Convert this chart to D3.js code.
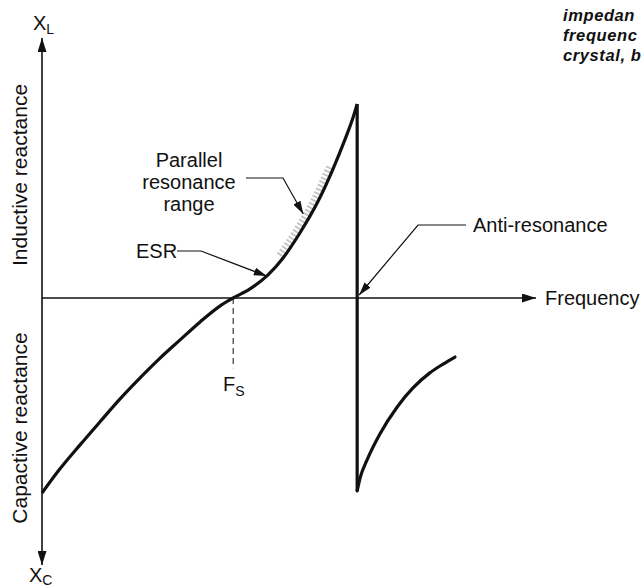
<!DOCTYPE html>
<html>
<head>
<meta charset="utf-8">
<script src="https://cdn.jsdelivr.net/npm/d3@7"></script>
<style>
  body { margin: 0; background: #fff; }
  svg text { font-family: "Liberation Sans", Arial, sans-serif; fill: #111; }
</style>
</head>
<body>
<div id="chart"></div>
<script>
// reactance curve of a quartz crystal, arbitrary units
// frequency 0..100, reactance -100..100
var lowFreq  = [0, 3.6, 7.7, 11.7, 15.8, 19.8, 23.9, 27.9, 32, 36, 38.7, 42.1, 45.7, 48.8, 52.2, 55.7, 58.9, 61.3, 63, 63.8];
var lowReact = [-75, -65.8, -56.5, -47.7, -38.8, -30.8, -23.1, -16.2, -9.2, -3.1, 0, 3.5, 8.8, 15.4, 25, 36.5, 49.6, 60.8, 69.6, 74.6];
var highFreq  = [63.8, 64.4, 65.8, 68.4, 71.9, 75.1, 78.5, 81.2, 83.6];
var highReact = [-74.2, -69.2, -62.3, -52.3, -41.9, -34.6, -28.8, -25.4, -22.7];
var seriesRes = 38.7;       // F_S
var antiRes = 63.8;         // anti-resonance
var parallelRange = [47.8, 58.4];
var esrFreq = 45.7;

var W = 643, H = 587;

var svg = d3.select("#chart").append("svg")
  .attr("width", W).attr("height", H);

var x = d3.scaleLinear().domain([0, 100]).range([42, 536]);
var y = d3.scaleLinear().domain([-100, 100]).range([558, 38]);

var defs = svg.append("defs");
function marker(id, len, wid) {
  defs.append("marker")
    .attr("id", id)
    .attr("viewBox", "0 0 " + len + " " + wid)
    .attr("refX", len).attr("refY", wid / 2)
    .attr("markerWidth", len).attr("markerHeight", wid)
    .attr("markerUnits", "userSpaceOnUse")
    .attr("orient", "auto")
    .append("path")
    .attr("d", "M0,0L" + len + "," + wid / 2 + "L0," + wid + "Z")
    .attr("fill", "#111");
}
marker("axisArrow", 14, 9);
marker("leadArrow", 13, 8);

// axes
svg.append("line")
  .attr("x1", x(0)).attr("x2", x(0))
  .attr("y1", y(0)).attr("y2", 38)
  .attr("stroke", "#111").attr("stroke-width", 1.6)
  .attr("marker-end", "url(#axisArrow)");
svg.append("line")
  .attr("x1", x(0)).attr("x2", x(0))
  .attr("y1", y(0)).attr("y2", 565)
  .attr("stroke", "#111").attr("stroke-width", 1.6)
  .attr("marker-end", "url(#axisArrow)");
svg.append("line")
  .attr("x1", x(0)).attr("x2", 536)
  .attr("y1", y(0)).attr("y2", y(0))
  .attr("stroke", "#111").attr("stroke-width", 1.6)
  .attr("marker-end", "url(#axisArrow)");

// F_S dashed drop
svg.append("line")
  .attr("x1", x(seriesRes)).attr("x2", x(seriesRes))
  .attr("y1", y(0)).attr("y2", y(-27))
  .attr("stroke", "#111").attr("stroke-width", 1)
  .attr("stroke-dasharray", "6,4");

var line = d3.line()
  .x(function (d) { return x(d[0]); })
  .y(function (d) { return y(d[1]); })
  .curve(d3.curveMonotoneX);

var low = d3.zip(lowFreq, lowReact),
    high = d3.zip(highFreq, highReact);

// parallel resonance band (grey, speckled)
var band = low.filter(function (d) { return d[0] >= parallelRange[0] - 1 && d[0] <= parallelRange[1] + 1; });
var bandLine = d3.line()
  .x(function (d) { return x(d[0]) - 2.5; })
  .y(function (d) { return y(d[1]) - 2; })
  .curve(d3.curveMonotoneX);
svg.append("path")
  .attr("d", bandLine(band))
  .attr("fill", "none").attr("stroke", "#a0a0a0")
  .attr("stroke-width", 9).attr("stroke-dasharray", "2,2")
  .attr("opacity", 0.6);

svg.append("path")
  .attr("d", line(low))
  .attr("fill", "none").attr("stroke", "#111")
  .attr("stroke-width", 3.2).attr("stroke-linejoin", "round");

svg.append("line")
  .attr("x1", x(antiRes)).attr("x2", x(antiRes))
  .attr("y1", y(lowReact[lowReact.length - 1])).attr("y2", y(highReact[0]))
  .attr("stroke", "#111").attr("stroke-width", 3.2);

svg.append("path")
  .attr("d", line(high))
  .attr("fill", "none").attr("stroke", "#111")
  .attr("stroke-width", 3.2).attr("stroke-linecap", "round");

// leader lines
function leader(pts) {
  svg.append("polyline")
    .attr("points", pts.map(function (p) { return p.join(","); }).join(" "))
    .attr("fill", "none").attr("stroke", "#111").attr("stroke-width", 1.2)
    .attr("marker-end", "url(#leadArrow)");
}
leader([[246, 178], [283, 178], [x(53.5) - 3, y(30) - 6]]);
leader([[177, 251], [201, 251], [x(esrFreq) - 1, y(8.8) + 1]]);
leader([[466, 225], [418, 225], [x(antiRes) + 2, y(0) - 3]]);

// labels
function label(t, px, py, opts) {
  opts = opts || {};
  return svg.append("text")
    .attr("x", px).attr("y", py)
    .attr("font-size", opts.size || 20)
    .attr("text-anchor", opts.anchor || "start")
    .text(t);
}
label("Parallel", 189, 167, {anchor: "middle"});
label("resonance", 189, 189, {anchor: "middle"});
label("range", 189, 211, {anchor: "middle"});
label("ESR", 136, 258);
label("Anti-resonance", 473, 232);
label("Frequency", 545, 305);

var fsLab = label("F", 223, 391);
fsLab.append("tspan").attr("font-size", 14).attr("dy", 5).text("S");

var xl = label("X", 33, 30);
xl.append("tspan").attr("font-size", 14).attr("dy", 4).text("L");
var xc = label("X", 29, 582);
xc.append("tspan").attr("font-size", 14).attr("dy", 3).text("C");

svg.append("text")
  .attr("transform", "translate(27,175) rotate(-90)")
  .attr("text-anchor", "middle").attr("font-size", 21)
  .text("Inductive reactance");
svg.append("text")
  .attr("transform", "translate(27,428) rotate(-90)")
  .attr("text-anchor", "middle").attr("font-size", 21)
  .text("Capactive reactance");

// caption fragment at top right (cut by the picture edge)
var capLines = ["impedan", "frequenc", "crystal, b"];
svg.selectAll(".cap").data(capLines).enter().append("text")
  .attr("class", "cap")
  .attr("x", 563).attr("y", function (d, i) { return 21 + i * 20; })
  .attr("font-size", 16.5).attr("font-weight", "bold").attr("font-style", "italic")
  .attr("letter-spacing", 0.6)
  .text(function (d) { return d; });
</script>
</body>
</html>
